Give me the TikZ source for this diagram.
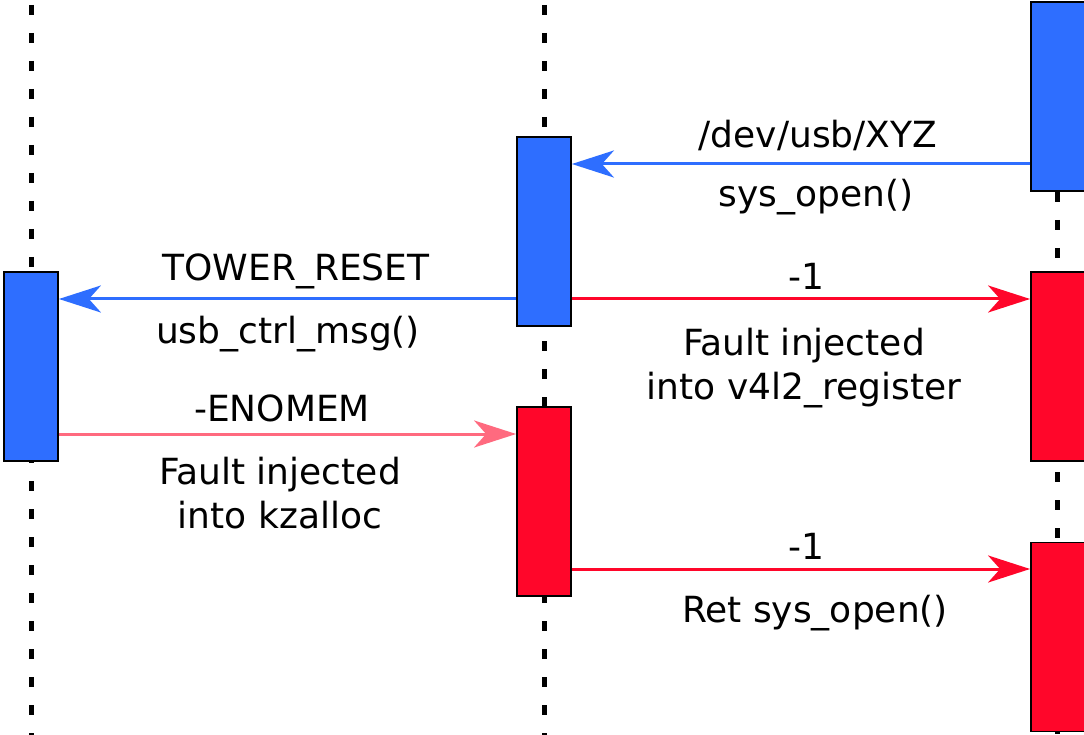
\documentclass[tikz,border=0pt]{standalone}
\usepackage{fontspec}
\setmainfont{DejaVu Sans}
\usetikzlibrary{arrows.meta,positioning}
\definecolor{actblue}{RGB}{46,110,255}
\definecolor{actred}{RGB}{255,6,42}
\tikzset{
act/.style   = {draw=black, line width=1.8pt, rectangle, minimum width=54pt, minimum height=189pt, inner sep=0pt},
ok/.style    = {act, fill=actblue},
fault/.style = {act, fill=actred},
life/.style  = {line width=5pt, dash pattern=on 10pt off 18pt},
tip/.style   = {-{Stealth[length=42pt, width=27pt, inset=12pt]}},
callmsg/.style = {tip, actblue, line width=3pt},
retmsg/.style  = {tip, actred, line width=3pt},
injmsg/.style  = {tip, actred!60, line width=3pt},
lbl/.style   = {font=\fontsize{36}{44}\selectfont, align=center, inner sep=0pt, anchor=base}
}
\begin{document}
\begin{tikzpicture}[x=1pt, y=-1pt]
  \useasboundingbox (0,0) rectangle (1084,735);
  \clip (0,0) rectangle (1084,735);

  % lifelines
  \coordinate (drvtop) at (31,5);
  \coordinate (drvbot) at (31,735);
  \coordinate (usbtop) at (544,5);
  \coordinate (usbbot) at (544,735);
  \coordinate (vfstop) at (1057,192);
  \coordinate (vfsbot) at (1057,735);
  \draw [life] (drvtop) -- (drvbot);
  \draw [life] (usbtop) -- (usbbot);
  \draw [life] (vfstop) -- (vfsbot);

  % activations
  \node [ok]    (drv)  at (31,366.5)  {};
  \node [ok]    (usbA) at (544,231.5) {};
  \node [fault] (usbB) at (544,501.5) {};
  \node [ok]    (vfsA) at (1058,96.5) {};
  \node [fault] (vfsB) at (1058,366.5) {};
  \node [fault] (vfsC) at (1058,637)  {};

  % message rows
  \coordinate (open)  at (0,164);
  \coordinate (ctrl)  at (0,299);
  \coordinate (nomem) at (0,434);
  \coordinate (ret)   at (0,569);

  \draw [callmsg] (vfsA.west |- open)  -- (usbA.east |- open);
  \draw [callmsg] (usbA.west |- ctrl)  -- (drv.east |- ctrl);
  \draw [injmsg]  (drv.east |- nomem)  -- (usbB.west |- nomem);
  \draw [retmsg]  (usbA.east |- ctrl)  -- (vfsB.west |- ctrl);
  \draw [retmsg]  (usbB.east |- ret)   -- (vfsC.west |- ret);

  % labels (base = last line)
  \node [lbl] (devname)  at (818,148) {/dev/usb/XYZ};
  \node [lbl] (sysopen)  at (816,207) {sys\_open()};
  \node [lbl] (tower)    at (296,281) {TOWER\_RESET};
  \node [lbl] (ctrlmsg)  at (288,343) {usb\_ctrl\_msg()};
  \node [lbl] (enomem)   at (282,421) {-ENOMEM};
  \node [lbl] (kzalloc)  at (280,528) {Fault injected\\into kzalloc};
  \node [lbl] (minusA)   at (806,290) {-1};
  \node [lbl] (v4ltwo)   at (804,399) {Fault injected\\into v4l2\_register};
  \node [lbl] (minusB)   at (806,559) {-1};
  \node [lbl] (retopen)  at (815,622) {Ret sys\_open()};
\end{tikzpicture}
\end{document}
